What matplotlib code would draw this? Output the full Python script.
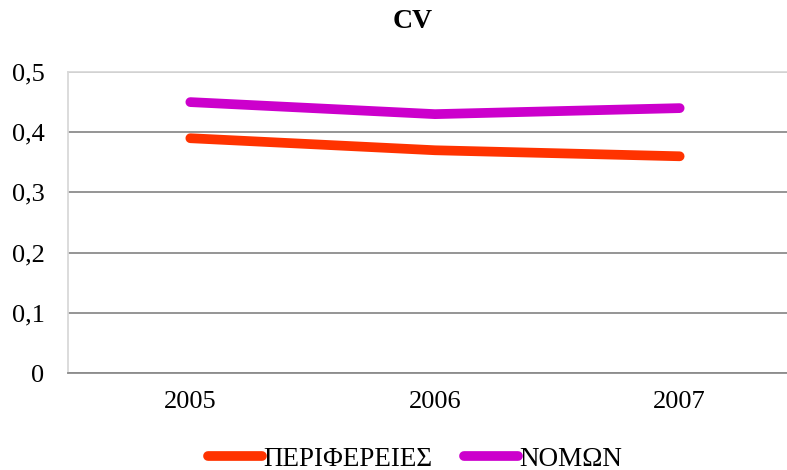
import matplotlib.pyplot as plt

years = ['2005', '2006', '2007']
periferies = [0.39, 0.37, 0.36]
nomon = [0.45, 0.43, 0.44]
y_ticks = [0, 0.1, 0.2, 0.3, 0.4, 0.5]
y_labels = ['0', '0,1', '0,2', '0,3', '0,4', '0,5']

plt.rcParams['font.family'] = ['Liberation Serif', 'DejaVu Serif']

fig = plt.figure(figsize=(7.87, 4.70), dpi=100)
# plot area is cut off on the right in the original
ax = fig.add_axes([68 / 787, 1 - 373 / 470, (802 - 68) / 787, (373 - 72) / 470])

x = range(len(years))
ax.plot(x, periferies, color='#FF3300', lw=7, solid_capstyle='round', label='ΠΕΡΙΦΕΡΕΙΕΣ', zorder=3)
ax.plot(x, nomon, color='#CC00CC', lw=7, solid_capstyle='round', label='ΝΟΜΩΝ', zorder=3)

ax.set_xlim(-0.5, len(years) - 0.5)
ax.set_ylim(0, 0.5)
ax.set_xticks(list(x))
ax.set_xticklabels(years, fontsize=19)
ax.set_yticks(y_ticks)
ax.set_yticklabels(y_labels, fontsize=19)
ax.tick_params(length=0)
ax.tick_params(axis='x', pad=13)
ax.tick_params(axis='y', pad=17)

ax.grid(axis='y', color='#8c8c8c', lw=1.3)
ax.set_axisbelow(True)
ax.spines['right'].set_visible(False)
for s in ['left', 'top']:
    ax.spines[s].set_color('#d9d9d9')
    ax.spines[s].set_linewidth(1.3)
ax.spines['bottom'].set_color('#8c8c8c')
ax.spines['bottom'].set_linewidth(1.3)

fig.text(413 / 787, 1 - 22 / 470, 'CV', ha='center', va='center', fontsize=20, fontweight='bold')

fig.legend(loc='center', bbox_to_anchor=(415 / 787, 1 - 459 / 470), ncol=2, frameon=False,
           fontsize=19.5, handlelength=2.0, handletextpad=0.05, columnspacing=1.15)

fig.savefig('out.png', dpi=100)
